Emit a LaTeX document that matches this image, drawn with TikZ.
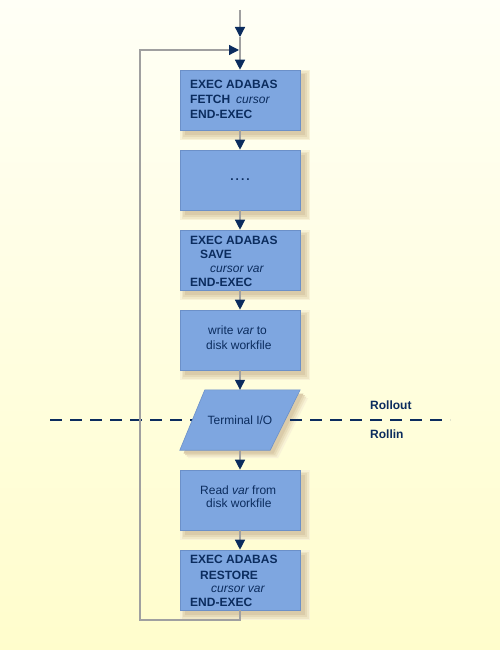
\documentclass[tikz,border=0pt]{standalone}
\usepackage{fontspec}
\setmainfont{Liberation Sans}
\usetikzlibrary{arrows.meta}
\definecolor{navy}{HTML}{0B2C5E}
\definecolor{boxblue}{HTML}{7EA6E0}
\definecolor{boxedge}{HTML}{6C90C8}
\definecolor{linegray}{HTML}{A0A0A0}
\definecolor{bgtop}{HTML}{FFFFF6}
\definecolor{bgbot}{HTML}{FFFDCC}
\definecolor{sha}{HTML}{F8F2D6}
\definecolor{shb}{HTML}{EFE6C6}
\definecolor{shc}{HTML}{E5D9B7}
\definecolor{shd}{HTML}{DACBA9}
\newcommand\boxshadow[2]{%
  \fill[sha] (#1-60,#2-30) rectangle (#1+70,#2+40);
  \fill[shb] (#1-58.5,#2-28.5) rectangle (#1+68.5,#2+38.5);
  \fill[shc] (#1-57,#2-27) rectangle (#1+67,#2+37);
  \fill[shd] (#1-55.5,#2-25.5) rectangle (#1+65,#2+35);
}
\newcommand\ioshadow[2]{%
  \fill[#2] (205+#1,390+#1) -- (300+#1,390+#1) -- (270+#1,450+#1) -- (180+#1,450+#1) -- cycle;
}
\tikzset{
  procbox/.style={rectangle, fill=boxblue, draw=boxedge, line width=0.6pt,
    minimum width=120pt, minimum height=60pt, inner sep=0pt},
  txt/.style={text=navy, font=\fontsize{12}{14}\selectfont, inner sep=0pt, anchor=base west},
  ctxt/.style={text=navy, font=\fontsize{12}{14}\selectfont, inner sep=0pt},
  btxt/.style={text=navy, font=\fontsize{12}{14}\selectfont\bfseries, inner sep=0pt, anchor=base west},
  conn/.style={draw=linegray, line width=1.3pt, -{Triangle[width=10pt,length=10pt,color=navy]}},
  plain/.style={draw=linegray, line width=1.3pt},
}
\begin{document}
\begin{tikzpicture}[x=1pt,y=-1pt]
\shade[top color=bgtop, bottom color=bgbot] (0,0) rectangle (500,650);
\useasboundingbox (0,0) rectangle (500,650);

% shadows
\boxshadow{240}{100}
\boxshadow{240}{180}
\boxshadow{240}{260}
\boxshadow{240}{340}
\boxshadow{240}{500}
\boxshadow{240}{580}
\ioshadow{8}{sha}
\ioshadow{6.5}{shb}
\ioshadow{5}{shc}
\ioshadow{3.5}{shd}

% dashed separator
\draw[navy, line width=2pt, dash pattern=on 12pt off 8pt] (50,420) -- (450,420);

% boxes
\node[procbox] (b1) at (240,100) {};
\node[procbox] (b2) at (240,180) {};
\node[procbox] (b3) at (240,260) {};
\node[procbox] (b4) at (240,340) {};
\node[minimum width=120pt, minimum height=60pt, inner sep=0pt] (io) at (240,420) {};
\fill[boxblue, draw=boxedge, line width=0.6pt]
  ([xshift=25pt]io.north west) -- (io.north east) -- ([xshift=-30pt]io.south east) -- (io.south west) -- cycle;
\node[procbox] (b5) at (240,500) {};
\node[procbox] (b6) at (240,580) {};

% texts box1
\node[btxt] at (190,89) {EXEC ADABAS};
\node[btxt] at (190,104) {FETCH};
\node[txt] at (236,104) {\itshape cursor};
\node[btxt] at (190,119) {END-EXEC};
% box2
\node[ctxt, font=\fontsize{12}{14}\selectfont\bfseries] at (240,180) {.\,.\,.\,.};
% box3
\node[btxt] at (190,244) {EXEC ADABAS};
\node[btxt] at (200,258) {SAVE};
\node[txt] at (210,272) {\itshape cursor var};
\node[btxt] at (190,286) {END-EXEC};
% box4
\node[txt] at (208,334) {write \itshape var\upshape\ to};
\node[txt] at (206,349) {disk workfile};
% io
\node[ctxt] at (240,420) {Terminal I/O};
% box5
\node[txt] at (200,494) {Read \itshape var\upshape\ from};
\node[txt] at (206,507) {disk workfile};
% box6
\node[btxt] at (190,563) {EXEC ADABAS};
\node[btxt] at (200,579) {RESTORE};
\node[txt] at (211,592) {\itshape cursor var};
\node[btxt] at (190,606) {END-EXEC};

% Rollout / Rollin
\node[btxt] (rollout) at (370,409) {Rollout};
\node[btxt] (rollin) at (370,438) {Rollin};

% connectors
\coordinate (start) at (240,10);
\coordinate (mid) at (240,37);
\coordinate (join) at (240,50);
\coordinate (bl) at (140,620);
\coordinate (br) at (240,620);
\coordinate (tl) at (140,50);
\draw[conn] (start) -- (mid);
\draw[plain] (mid) -- (join);
\draw[conn] (join) -- (b1.north);
\draw[conn] (b1.south) -- (b2.north);
\draw[conn] (b2.south) -- (b3.north);
\draw[conn] (b3.south) -- (b4.north);
\draw[conn] (b4.south) -- (io.north);
\draw[conn] (io.south) -- (b5.north);
\draw[conn] (b5.south) -- (b6.north);
\draw[conn] (b6.south) -- (br) -- (bl) -- (tl) -- ([xshift=-1pt]join);
\end{tikzpicture}
\end{document}
